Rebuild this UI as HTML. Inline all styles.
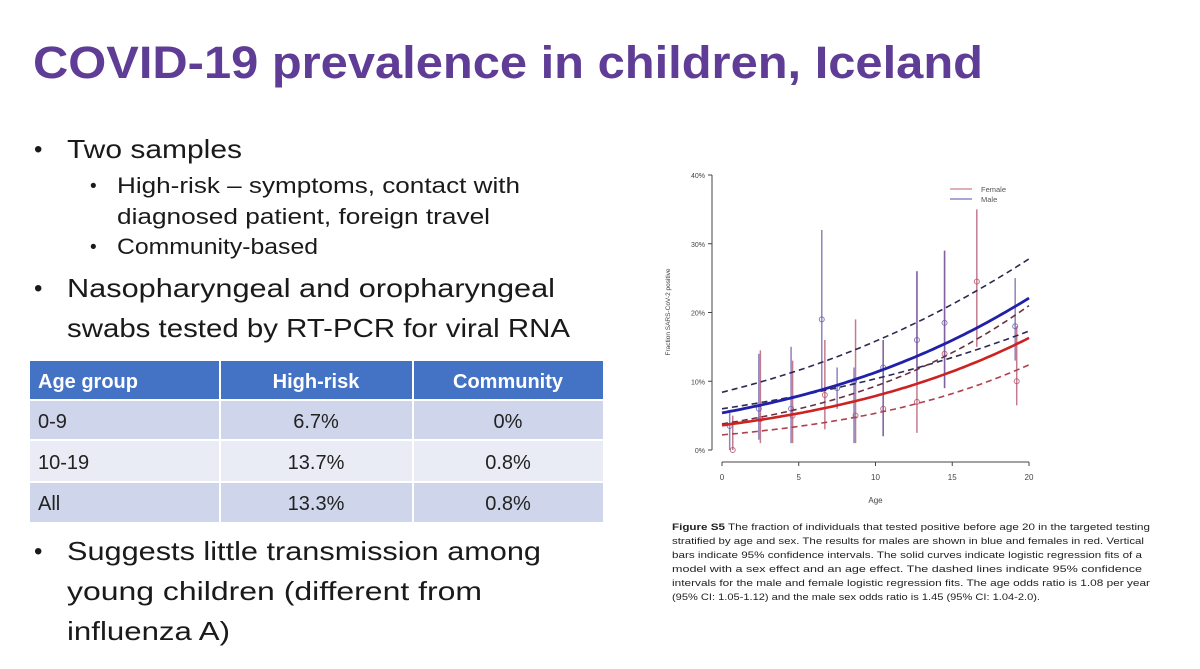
<!DOCTYPE html>
<html><head><meta charset="utf-8"><style>
html,body{margin:0;padding:0;background:#fff;}
svg{display:block;font-family:"Liberation Sans",sans-serif;}
</style></head><body>
<svg id="slide" width="1200" height="669" viewBox="0 0 1200 669">
<rect width="1200" height="669" fill="#fff"/>
<text x="33" y="78" font-size="45" font-weight="bold" fill="#5f3d96" textLength="950" lengthAdjust="spacingAndGlyphs">COVID-19 prevalence in children, Iceland</text>

<g fill="#1a1a1a">
<text x="34" y="157" font-size="24">•</text>
<text x="67" y="158" font-size="26" textLength="175" lengthAdjust="spacingAndGlyphs">Two samples</text>
<text x="90" y="192" font-size="19">•</text>
<text x="117" y="193" font-size="22" textLength="403" lengthAdjust="spacingAndGlyphs">High-risk – symptoms, contact with</text>
<text x="117" y="224" font-size="22" textLength="373" lengthAdjust="spacingAndGlyphs">diagnosed patient, foreign travel</text>
<text x="90" y="253" font-size="19">•</text>
<text x="117" y="254" font-size="22" textLength="201" lengthAdjust="spacingAndGlyphs">Community-based</text>
<text x="34" y="296" font-size="24">•</text>
<text x="67" y="297" font-size="26" textLength="488" lengthAdjust="spacingAndGlyphs">Nasopharyngeal and oropharyngeal</text>
<text x="67" y="337" font-size="26" textLength="503" lengthAdjust="spacingAndGlyphs">swabs tested by RT-PCR for viral RNA</text>
<text x="34" y="559" font-size="24">•</text>
<text x="67" y="560" font-size="26" textLength="474" lengthAdjust="spacingAndGlyphs">Suggests little transmission among</text>
<text x="67" y="600" font-size="26" textLength="415" lengthAdjust="spacingAndGlyphs">young children (different from</text>
<text x="67" y="640" font-size="26" textLength="163" lengthAdjust="spacingAndGlyphs">influenza A)</text>
</g>

<g font-size="20">
<rect x="30" y="361" width="573" height="39" fill="#4472c4"/>
<rect x="30" y="400" width="573" height="40" fill="#cfd5ea"/>
<rect x="30" y="440" width="573" height="42" fill="#e9ebf5"/>
<rect x="30" y="482" width="573" height="40" fill="#cfd5ea"/>
<g stroke="#fff" stroke-width="2"><line x1="30" y1="400" x2="603" y2="400"/><line x1="30" y1="440" x2="603" y2="440"/><line x1="30" y1="482" x2="603" y2="482"/><line x1="220" y1="361" x2="220" y2="522"/><line x1="413" y1="361" x2="413" y2="522"/></g>
<g fill="#fff" font-weight="bold"><text x="38" y="388">Age group</text><text x="316" y="388" text-anchor="middle">High-risk</text><text x="508" y="388" text-anchor="middle">Community</text></g>
<g fill="#222"><text x="38" y="428">0-9</text><text x="316" y="428" text-anchor="middle">6.7%</text><text x="508" y="428" text-anchor="middle">0%</text>
<text x="38" y="469">10-19</text><text x="316" y="469" text-anchor="middle">13.7%</text><text x="508" y="469" text-anchor="middle">0.8%</text>
<text x="38" y="510">All</text><text x="316" y="510" text-anchor="middle">13.3%</text><text x="508" y="510" text-anchor="middle">0.8%</text></g>
</g>

<g id="chart"></g>

<g font-size="9.3" fill="#222">
<text x="672" y="530" textLength="478" lengthAdjust="spacingAndGlyphs"><tspan font-weight="bold">Figure S5</tspan> The fraction of individuals that tested positive before age 20 in the targeted testing</text>
<text x="672" y="544" textLength="472" lengthAdjust="spacingAndGlyphs">stratified by age and sex. The results for males are shown in blue and females in red. Vertical</text>
<text x="672" y="558" textLength="470" lengthAdjust="spacingAndGlyphs">bars indicate 95% confidence intervals. The solid curves indicate logistic regression fits of a</text>
<text x="672" y="572" textLength="470" lengthAdjust="spacingAndGlyphs">model with a sex effect and an age effect. The dashed lines indicate 95% confidence</text>
<text x="672" y="586" textLength="478" lengthAdjust="spacingAndGlyphs">intervals for the male and female logistic regression fits. The age odds ratio is 1.08 per year</text>
<text x="672" y="600" textLength="368" lengthAdjust="spacingAndGlyphs">(95% CI: 1.05-1.12) and the male sex odds ratio is 1.45 (95% CI: 1.04-2.0).</text>
</g>
</svg>
<script>
const xTicks = [0, 5, 10, 15, 20];
const yTicks = [0, 10, 20, 30, 40];
const yTickLabels = ['0%', '10%', '20%', '30%', '40%'];
const femaleAges = [0.7, 2.5, 4.6, 6.7, 8.7, 10.5, 12.7, 14.5, 16.6, 19.2];
const femaleValues = [0, 4.5, 5, 8, 5, 6, 7, 14, 24.5, 10];
const femaleLow = [0, 1, 1, 3, 1, 2, 2.5, 9, 15, 6.5];
const femaleHigh = [5, 14.5, 13, 16, 19, 16, 26, 29, 35, 18];
const maleAges = [0.5, 2.4, 4.5, 6.5, 7.5, 8.6, 10.5, 12.7, 14.5, 19.1];
const maleValues = [3.5, 6, 6, 19, 9, 10, 12, 16, 18.5, 18];
const maleLow = [0, 1.5, 1, 9, 6, 1, 2, 10, 9, 13];
const maleHigh = [5.5, 14, 15, 32, 12, 12, 16, 26, 29, 25];
// fitted curves: [% at age 0, % at age 20]
const maleFit = [5.4, 22.1];
const maleFitUpper = [8.4, 27.8];
const maleFitLower = [6.0, 17.3];
const femaleFit = [3.6, 16.3];
const femaleFitUpper = [3.8, 21.0];
const femaleFitLower = [2.2, 12.4];

const NS = 'http://www.w3.org/2000/svg';
const g = document.getElementById('chart');
const X0 = 722, X1 = 1029, Y0 = 450, Y1 = 175;
const xs = a => X0 + (a - 0) / 20 * (X1 - X0);
const ys = v => Y0 - v / 40 * (Y0 - Y1);
function mk(tag, attrs, parent) {
  const e = document.createElementNS(NS, tag);
  for (const k in attrs) e.setAttribute(k, attrs[k]);
  (parent || g).appendChild(e);
  return e;
}
const ax = mk('line', {x1: 712, y1: ys(0), x2: 712, y2: ys(40), stroke: '#444', 'stroke-width': 1});


const bx = mk('line', {x1: xs(0), y1: 462, x2: xs(20), y2: 462, stroke: '#444', 'stroke-width': 1});


yTicks.forEach((t, i) => {
  mk('line', {x1: 708, y1: ys(t), x2: 712, y2: ys(t), stroke: '#444'});
  const tx = mk('text', {x: 705, y: ys(t) + 3, 'font-size': 7, 'text-anchor': 'end', fill: '#444'});
  tx.textContent = yTickLabels[i];
  
  
});
xTicks.forEach(t => {
  mk('line', {x1: xs(t), y1: 462, x2: xs(t), y2: 466, stroke: '#444'});
  const tx = mk('text', {x: xs(t), y: 480, 'font-size': 8, 'text-anchor': 'middle', fill: '#444'});
  tx.textContent = t;
  
  
});
const xt = mk('text', {x: xs(10), y: 503, 'font-size': 8, 'text-anchor': 'middle', fill: '#444'});
xt.textContent = 'Age';


const yt = mk('text', {x: 0, y: 0, 'font-size': 6.5, 'text-anchor': 'middle', fill: '#444', transform: 'translate(670,312) rotate(-90)'});
yt.textContent = 'Fraction SARS-CoV-2 positive';


function series(ages, vals, lo, hi, color, name) {
  ages.forEach((a, i) => {
    const l = mk('line', {x1: xs(a), y1: ys(lo[i]), x2: xs(a), y2: ys(hi[i]), stroke: color, 'stroke-width': 1.5, opacity: 0.75});
    
    
    const c = mk('circle', {cx: xs(a), cy: ys(vals[i]), r: 2.5, fill: 'none', stroke: color, 'stroke-width': 1, opacity: 0.8});
    
    
  });
}
series(femaleAges, femaleValues, femaleLow, femaleHigh, '#b0506a', 'female');
series(maleAges, maleValues, maleLow, maleHigh, '#6a5aa8', 'male');
const logit = p => Math.log(p / (1 - p));
function curve(fit, color, width, dash, name) {
  const a = logit(fit[0] / 100), b = (logit(fit[1] / 100) - a) / 20;
  let d = '';
  for (let t = 0; t <= 20.001; t += 0.25) {
    const p = 100 / (1 + Math.exp(-(a + b * t)));
    d += (t === 0 ? 'M' : 'L') + xs(t).toFixed(1) + ',' + ys(p).toFixed(1);
  }
  const p = mk('path', {d: d, fill: 'none', stroke: color, 'stroke-width': width});
  if (dash) p.setAttribute('stroke-dasharray', dash);
  
  
}
curve(maleFitUpper, '#2a2a55', 1.6, '6,4', 'male-ci-upper');
curve(maleFitLower, '#2a2a55', 1.6, '6,4', 'male-ci-lower');
curve(femaleFitUpper, '#6a3040', 1.6, '6,4', 'female-ci-upper');
curve(femaleFitLower, '#b04050', 1.6, '6,4', 'female-ci-lower');
curve(femaleFit, '#cc2222', 2.6, null, 'female-fit-curve');
curve(maleFit, '#2020a8', 2.8, null, 'male-fit-curve');
[['Female', '#c06070', 189], ['Male', '#5050b0', 199]].forEach(([lab, col, y]) => {
  const l = mk('line', {x1: 950, y1: y, x2: 972, y2: y, stroke: col, 'stroke-width': 1});
  
  
  const t = mk('text', {x: 981, y: y + 3, 'font-size': 7.5, fill: '#555'});
  t.textContent = lab;
  
  
});
</script>
</body></html>
